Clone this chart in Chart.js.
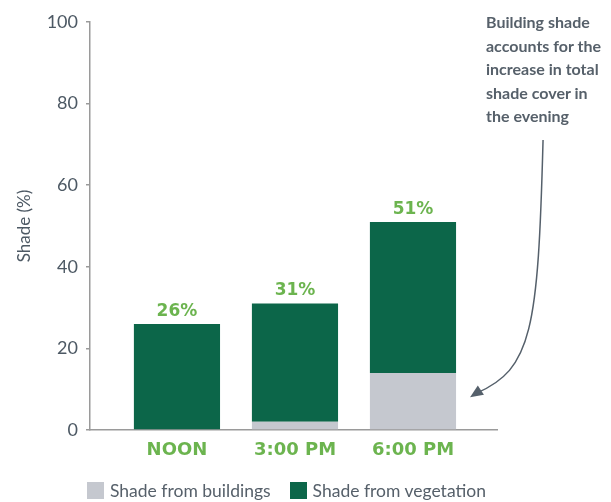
<!DOCTYPE html>
<html>
<head>
<meta charset="utf-8">
<script src="https://cdn.jsdelivr.net/npm/chart.js@4.4.1/dist/chart.umd.min.js"></script>
<style>
  html, body { margin: 0; padding: 0; background: #fff; }
  #wrap { position: relative; width: 611px; height: 502px; }
  #note {
    position: absolute; left: 486px; top: 10px; width: 125px;
    font: bold 16px Lato, sans-serif; line-height: 23.5px; color: #56606a;
  }
  #legend {
    position: absolute; left: 87px; top: 480px;
    display: flex; align-items: center;
    font: 17.5px Lato, sans-serif; color: #56606a;
  }
  #legend .item { display: flex; align-items: center; margin-right: 19px; }
  #legend .box { width: 17px; height: 17px; margin-right: 6px; }
</style>
</head>
<body>
<div id="wrap">
  <canvas id="shadeChart" width="611" height="502"></canvas>
  <div id="note">Building shade<br>accounts for the<br>increase in total<br>shade cover in<br>the evening</div>
  <div id="legend"></div>
</div>
<script>
// chart data
const categories = ['NOON', '3:00 PM', '6:00 PM'];
const buildingShade = [0, 2, 14];
const vegetationShade = [26, 29, 37];
const seriesNames = ['Shade from buildings', 'Shade from vegetation'];
const seriesColors = ['#c5c8cf', '#0c6649'];
const yTicks = [0, 20, 40, 60, 80, 100];

const labelGreen = '#6cb44f';
const axisGray = '#9a9a9a';
const textGray = '#4d5964';

// totals above each stack
const totalsPlugin = {
  id: 'totals',
  afterDatasetsDraw(chart) {
    const ctx = chart.ctx;
    const yScale = chart.scales.y;
    const meta = chart.getDatasetMeta(1);
    ctx.save();
    ctx.font = 'bold 17px "DejaVu Sans", sans-serif';
    ctx.fillStyle = labelGreen;
    ctx.textAlign = 'center';
    ctx.textBaseline = 'bottom';
    categories.forEach((c, i) => {
      const total = buildingShade[i] + vegetationShade[i];
      const x = meta.data[i].x;
      const y = yScale.getPixelForValue(total) - 4;
      ctx.fillText(Math.round(total) + '%', x, y);
    });
    ctx.restore();
  }
};

// curved arrow pointing at the building shade of the last bar
const arrowPlugin = {
  id: 'arrow',
  afterDraw(chart) {
    const ctx = chart.ctx;
    const bar = chart.getDatasetMeta(0).data[2];
    const yScale = chart.scales.y;
    const tx = bar.x + bar.width / 2 + 14;
    const ty = yScale.getPixelForValue(8);
    const sx = tx + 73, sy = 140;
    ctx.save();
    ctx.strokeStyle = '#55606b';
    ctx.fillStyle = '#55606b';
    ctx.lineWidth = 1.5;
    ctx.beginPath();
    ctx.moveTo(sx, sy);
    ctx.bezierCurveTo(sx - 5, sy + 190, tx + 62, ty - 28, tx + 6, ty - 4);
    ctx.stroke();
    // arrow head
    const ang = Math.atan2(ty - (ty - 6), tx - (tx + 9));
    const len = 13, half = 5.5;
    ctx.beginPath();
    ctx.moveTo(tx, ty);
    ctx.lineTo(tx - len * Math.cos(ang) + half * Math.sin(ang), ty - len * Math.sin(ang) - half * Math.cos(ang));
    ctx.lineTo(tx - len * Math.cos(ang) - half * Math.sin(ang), ty - len * Math.sin(ang) + half * Math.cos(ang));
    ctx.closePath();
    ctx.fill();
    ctx.restore();
  }
};

const datasets = [buildingShade, vegetationShade].map((vals, s) => ({
  label: seriesNames[s],
  data: vals.map((v, i) => ({ x: i, y: v })),
  backgroundColor: seriesColors[s],
  borderWidth: 0,
  barPercentage: 0.73,
  categoryPercentage: 1
}));

new Chart(document.getElementById('shadeChart'), {
  type: 'bar',
  data: { datasets: datasets },
  options: {
    responsive: false,
    animation: false,
    layout: { padding: { top: 22, right: 114, bottom: 0, left: 0 } },
    scales: {
      x: {
        type: 'linear',
        stacked: true,
        offset: false,
        min: -0.737,
        max: 2.712,
        afterBuildTicks: (scale) => {
          scale.ticks = categories.map((c, i) => ({ value: i }));
        },
        afterFit: (scale) => { scale.height = 72; },
        grid: { display: false, drawTicks: false, offset: false },
        border: { display: true, color: axisGray, width: 1.5 },
        ticks: {
          padding: 10,
          color: labelGreen,
          font: { family: 'DejaVu Sans', weight: 'bold', size: 18 },
          callback: (value) => categories[value]
        }
      },
      y: {
        stacked: true,
        min: 0,
        max: 100,
        afterBuildTicks: (scale) => {
          scale.ticks = yTicks.map(v => ({ value: v }));
        },
        afterFit: (scale) => { scale.width = 90; },
        grid: { drawOnChartArea: false, drawTicks: true, tickLength: 4, color: axisGray, lineWidth: 1.5 },
        border: { display: true, color: axisGray, width: 1.5 },
        ticks: {
          padding: 8,
          color: textGray,
          font: { family: 'Lato', size: 18 }
        },
        title: {
          display: true,
          text: 'Shade (%)',
          color: textGray,
          font: { family: 'Lato', size: 17 },
          padding: { top: 14, bottom: 0 }
        }
      }
    },
    plugins: {
      legend: { display: false },
      tooltip: { enabled: false }
    }
  },
  plugins: [totalsPlugin, arrowPlugin]
});

// html legend
const legendEl = document.getElementById('legend');
seriesNames.forEach((name, s) => {
  const item = document.createElement('div');
  item.className = 'item';
  const box = document.createElement('span');
  box.className = 'box';
  box.style.background = seriesColors[s];
  const txt = document.createElement('span');
  txt.textContent = name;
  item.appendChild(box);
  item.appendChild(txt);
  legendEl.appendChild(item);
});
</script>
</body>
</html>
